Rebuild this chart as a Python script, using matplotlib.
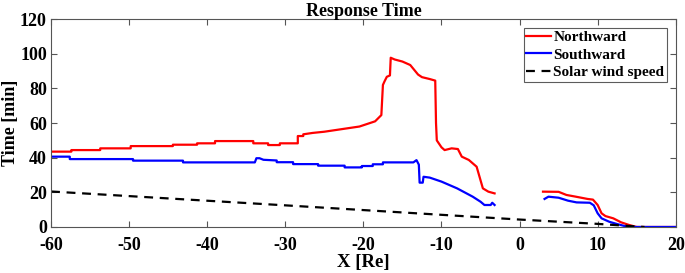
import numpy as np
import matplotlib
matplotlib.use("Agg")
import matplotlib.pyplot as plt

plt.rcParams['font.family'] = ['Liberation Serif', 'DejaVu Serif']
plt.rcParams['font.weight'] = 'bold'
plt.rcParams['axes.unicode_minus'] = False

nan = np.nan

# Northward response time; gap near the Earth
x_north = [-60, -57.4, -57.4, -53.7, -53.7, -49.8, -49.8, -44.4, -44.4, -41.3, -41.3,
           -39.0, -39.0, -34.1, -34.1, -32.2, -32.2, -30.7, -30.7, -28.4, -28.4, -27.7,
           -27.7, -26.5, -25.0, -23.5, -22.0, -20.5, -19.5, -18.5, -17.7, -17.5, -17.3,
           -17.0, -16.6, -16.5, -16.0, -15.0, -14.0, -13.0, -12.5, -11.5, -10.8, -10.7,
           -10.6, -10.0, -9.6, -8.7, -7.9, -7.4, -6.5, -5.5, -4.7, -4.0, -3.2,
           nan,
           3.0, 5.0, 5.5, 6.0, 7.2, 8.7, 9.4, 10.0, 10.5, 11.0, 12.0, 13.0, 14.0, 15.0, 20.0]
t_north = [43.5, 43.5, 44.4, 44.4, 45.4, 45.4, 46.7, 46.7, 47.5, 47.5, 48.3,
           48.3, 49.6, 49.6, 48.3, 48.3, 47.3, 47.3, 48.3, 48.3, 52.5, 52.5,
           53.5, 54.3, 55.0, 56.0, 57.0, 58.0, 59.5, 61.0, 64.6, 82.0, 84.0,
           86.7, 87.5, 97.7, 96.7, 95.5, 93.5, 88.0, 86.5, 85.4, 84.5, 60.0,
           50.0, 46.0, 44.4, 45.4, 45.0, 40.6, 38.7, 34.8, 22.3, 20.4, 19.4,
           nan,
           20.4, 20.3, 19.4, 18.5, 17.5, 16.2, 15.8, 12.7, 7.9, 6.3, 5.0, 2.7, 1.2, 0.0, 0.0]

# Southward response time
x_south = [-60, -57.6, -57.6, -49.5, -49.5, -43.1, -43.1, -33.9, -33.7, -33.3, -32.8,
           -32.8, -31.1, -31.1, -29.0, -29.0, -25.8, -25.8, -22.4, -22.4, -20.2, -20.2,
           -18.8, -18.8, -17.5, -17.5, -13.6, -13.2, -12.9, -12.8, -12.4, -12.3, -11.5,
           -10.0, -8.0, -6.0, -5.0, -4.5, -3.7, -3.5, -3.2,
           nan,
           3.2, 3.7, 5.0, 6.2, 7.3, 9.0, 9.5, 10.0, 10.5, 11.5, 12.5, 13.5, 14.5, 20.0]
t_south = [40.6, 40.6, 39.2, 39.2, 38.3, 38.3, 37.3, 37.3, 39.7, 39.7, 38.8,
           38.8, 38.4, 37.4, 37.4, 36.3, 36.3, 35.4, 35.4, 34.4, 34.4, 35.2,
           35.2, 36.2, 36.2, 37.3, 37.3, 38.6, 36.0, 25.6, 25.6, 29.0, 28.5,
           26.2, 22.3, 17.5, 14.6, 12.7, 12.7, 14.0, 12.7,
           nan,
           16.2, 17.5, 16.9, 15.2, 14.2, 14.0, 12.5, 7.9, 5.0, 3.0, 1.7, 0.5, 0.0, 0.0]

# Solar wind propagation time
x_wind = [-60, -30, 0, 10, 16]
t_wind = [20.5, 12.5, 4.3, 1.8, 0.0]

fig = plt.figure(figsize=(6.85, 2.73), dpi=100)
ax = fig.add_axes([0.0745, 0.1685, 0.912, 0.7615])

ax.plot(x_north, t_north, color='red', lw=1.6, label='Northward')
ax.plot(x_south, t_south, color='blue', lw=1.6, label='Southward')
ax.plot(x_wind, t_wind, color='black', lw=1.6, ls=(0, (4, 3)), label='Solar wind speed')

ax.set_xlim(-60, 20)
ax.set_ylim(0, 120)
ax.set_xticks(np.arange(-60, 21, 10))
ax.set_yticks(np.arange(0, 121, 20))
ax.tick_params(direction='in', top=True, right=True, length=4, width=0.8,
               labelsize=13, color='#555555')
ax.tick_params(axis='x', pad=7)
ax.tick_params(axis='y', pad=3)
for lab in ax.get_xticklabels() + ax.get_yticklabels():
    lab.set_fontweight('bold')
for s in ax.spines.values():
    s.set_color('#555555')
    s.set_linewidth(0.8)

ax.set_title('Response Time', fontsize=13, fontweight='bold', pad=2)
ax.set_xlabel('X [Re]', fontsize=13.5, fontweight='bold', labelpad=0.5)
ax.set_ylabel('Time [min]', fontsize=13, fontweight='bold', labelpad=0.5)

leg = ax.legend(loc='upper right', handlelength=1.65, handletextpad=0.15,
                borderpad=0.15, labelspacing=0.25, fancybox=False, borderaxespad=0.6,
                prop={'weight': 'bold', 'size': 11})
leg.get_frame().set_edgecolor('#333333')
leg.get_frame().set_linewidth(0.8)

fig.savefig('out.png', dpi=100)
